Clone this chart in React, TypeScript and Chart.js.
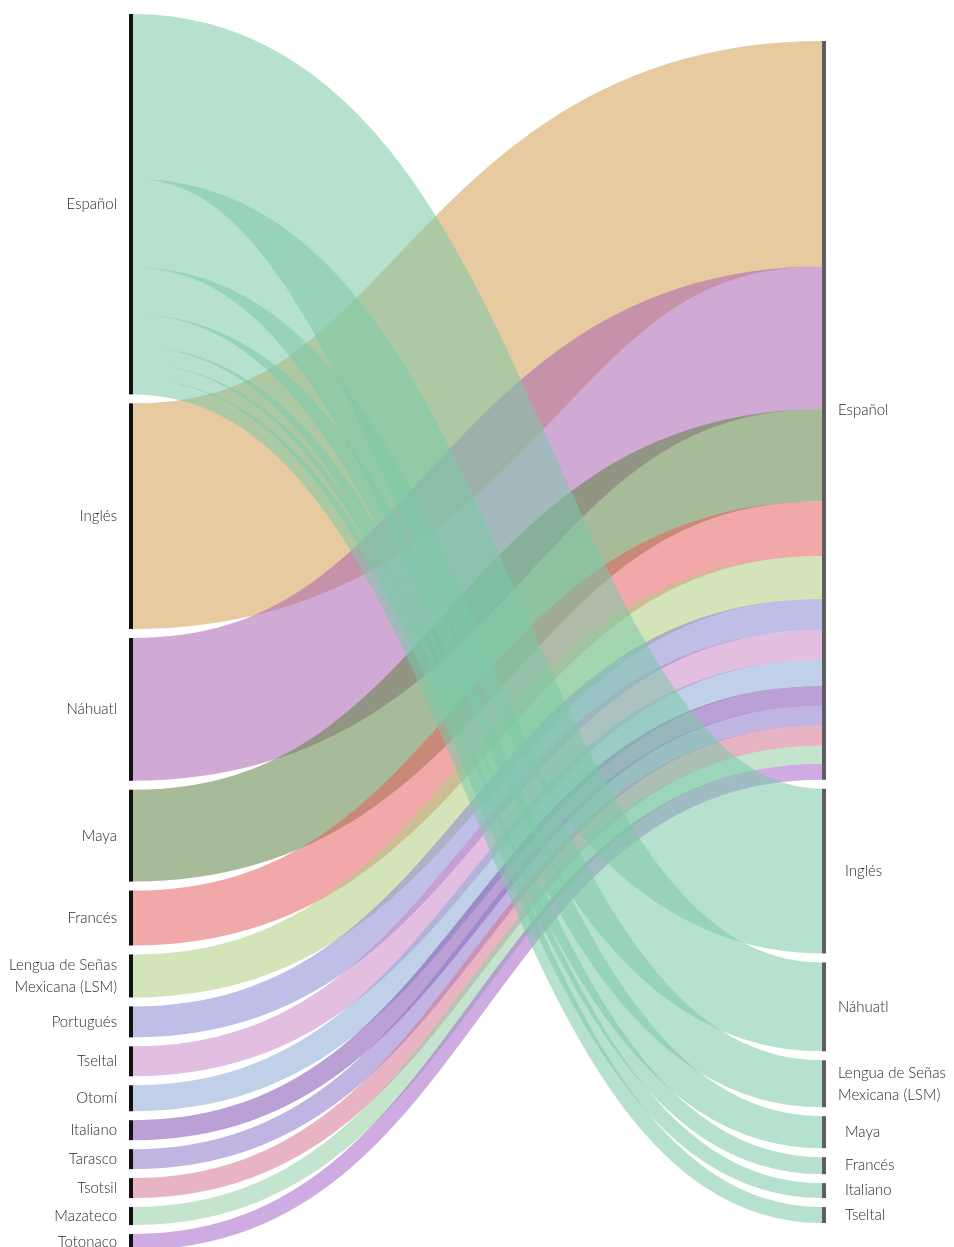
import React, { useEffect, useRef } from "react";
import { Chart, registerables } from "chart.js";

Chart.register(...registerables);

// ---------- DATA ----------
const sourceLanguages = [
  "Español",
  "Inglés",
  "Náhuatl",
  "Maya",
  "Francés",
  "Lengua de Señas\nMexicana (LSM)",
  "Portugués",
  "Tseltal",
  "Otomí",
  "Italiano",
  "Tarasco",
  "Tsotsil",
  "Mazateco",
  "Totonaco",
];

const targetLanguages = [
  "Español",
  "Inglés",
  "Náhuatl",
  "Lengua de Señas\nMexicana (LSM)",
  "Maya",
  "Francés",
  "Italiano",
  "Tseltal",
];

// flows from source languages 2..14 into target "Español"
const toSpanishValues = [226, 143, 92, 55, 43, 31, 30, 26, 20, 20, 20, 18, 16];
// flows from source "Español" into target languages 2..8
const fromSpanishValues = [165, 89, 47, 32, 17, 15, 16];

const sourceColors = [
  "#7cc9a8",
  "#d59f52",
  "#aa64b1",
  "#5f8344",
  "#e46161",
  "#b1ce80",
  "#8989d1",
  "#ca89c7",
  "#8caad5",
  "#8152b1",
  "#8c77ca",
  "#d57693",
  "#94cea6",
  "#a668ca",
];

// ---------- LAYOUT / STYLE ----------
const NODE_GAP = 9;
const LINK_ALPHA = 0.55;
const NODE_W = 4;
const LABEL_FONT = "300 15px Lato, 'Open Sans', sans-serif";
const LABEL_COLOR = "#2a2a2a";
const CANVAS_W = 954;
const CANVAS_H = 1250;

type Link = { s: number; t: number; v: number };

// drawing order: flows into Español first, flows out of Español on top
const links: Link[] = [
  ...toSpanishValues.map((v, i) => ({ s: i + 1, t: 0, v })),
  ...fromSpanishValues.map((v, i) => ({ s: 0, t: i + 1, v })),
];

function nodeValues(count: number, key: "s" | "t") {
  const vals = new Array(count).fill(0);
  links.forEach((l) => (vals[l[key]] += l.v));
  return vals;
}

const leftValues = nodeValues(sourceLanguages.length, "s");
const rightValues = nodeValues(targetLanguages.length, "t");
const sum = (a: number[]) => a.reduce((p, c) => p + c, 0);
const leftSpan = sum(leftValues) + NODE_GAP * (leftValues.length - 1);
const rightSpan = sum(rightValues) + NODE_GAP * (rightValues.length - 1);

function stack(values: number[], offset: number) {
  const out: { y0: number; y1: number }[] = [];
  let y = offset;
  values.forEach((v) => {
    out.push({ y0: y, y1: y + v });
    y += v + NODE_GAP;
  });
  return out;
}

function hexToRgba(hex: string, a: number) {
  const n = parseInt(hex.slice(1), 16);
  return `rgba(${(n >> 16) & 255},${(n >> 8) & 255},${n & 255},${a})`;
}

const sankeyPlugin = {
  id: "sankeyFlows",
  afterDatasetsDraw(chart: any) {
    const { ctx, scales } = chart;
    const xs = scales.x;
    const ys = scales.y;
    const leftNodes = stack(leftValues, 0);
    const rightNodes = stack(rightValues, (leftSpan - rightSpan) / 2);

    const outCursor = leftNodes.map((n) => n.y0);
    const inCursor = rightNodes.map((n) => n.y0);
    const pos = new Map<Link, { sy: number; ty: number }>();
    [...links]
      .sort((a, b) => a.s - b.s || a.t - b.t)
      .forEach((l) => {
        const sy = outCursor[l.s] + l.v / 2;
        outCursor[l.s] += l.v;
        pos.set(l, { sy, ty: 0 });
      });
    [...links]
      .sort((a, b) => a.t - b.t || a.s - b.s)
      .forEach((l) => {
        const p = pos.get(l)!;
        p.ty = inCursor[l.t] + l.v / 2;
        inCursor[l.t] += l.v;
      });

    const xL = xs.getPixelForValue(0);
    const xR = xs.getPixelForValue(1);
    const x0 = xL + NODE_W;
    const x1 = xR - NODE_W;
    const xm = (x0 + x1) / 2;

    ctx.save();
    ctx.lineCap = "butt";
    links.forEach((l) => {
      const p = pos.get(l)!;
      const y0 = ys.getPixelForValue(p.sy);
      const y1 = ys.getPixelForValue(p.ty);
      const w = Math.abs(ys.getPixelForValue(l.v) - ys.getPixelForValue(0));
      ctx.beginPath();
      ctx.moveTo(x0, y0);
      ctx.bezierCurveTo(xm, y0, xm, y1, x1, y1);
      ctx.lineWidth = w;
      ctx.strokeStyle = hexToRgba(sourceColors[l.s], LINK_ALPHA);
      ctx.stroke();
    });

    leftNodes.forEach((n) => {
      const a = ys.getPixelForValue(n.y0);
      const b = ys.getPixelForValue(n.y1);
      ctx.fillStyle = "#111111";
      ctx.fillRect(xL, a, NODE_W, b - a);
    });
    rightNodes.forEach((n) => {
      const a = ys.getPixelForValue(n.y0);
      const b = ys.getPixelForValue(n.y1);
      ctx.fillStyle = "#5e5e5e";
      ctx.fillRect(xR - NODE_W, a, NODE_W, b - a);
    });

    ctx.font = LABEL_FONT;
    ctx.fillStyle = LABEL_COLOR;
    ctx.textBaseline = "middle";
    const lineH = 22;
    ctx.textAlign = "right";
    leftNodes.forEach((n, i) => {
      const cy = ys.getPixelForValue((n.y0 + n.y1) / 2);
      const lines = sourceLanguages[i].split("\n");
      lines.forEach((ln, k) => {
        ctx.fillText(ln, xL - 12, cy + (k - (lines.length - 1) / 2) * lineH);
      });
    });
    ctx.textAlign = "left";
    rightNodes.forEach((n, i) => {
      const cy = ys.getPixelForValue((n.y0 + n.y1) / 2);
      const lines = targetLanguages[i].split("\n");
      const lx = i === 0 || i === 2 || i === 3 ? xR + 12 : xR + 19;
      lines.forEach((ln, k) => {
        ctx.fillText(ln, lx, cy + (k - (lines.length - 1) / 2) * lineH);
      });
    });
    ctx.restore();
  },
};

export default function App() {
  const ref = useRef<HTMLCanvasElement>(null);
  useEffect(() => {
    if (!ref.current) return;
    const chart = new Chart(ref.current, {
      type: "scatter",
      data: { datasets: [] },
      options: {
        animation: false,
        responsive: false,
        maintainAspectRatio: false,
        layout: { padding: { left: 129, right: CANVAS_W - 826, top: 14, bottom: 0 } },
        scales: {
          x: { type: "linear", min: 0, max: 1, display: false },
          y: { type: "linear", min: 0, max: leftSpan, reverse: true, display: false },
        },
        plugins: { legend: { display: false }, tooltip: { enabled: false } },
      },
      plugins: [sankeyPlugin],
    });
    return () => chart.destroy();
  }, []);
  return (
    <div
      style={{
        position: "fixed",
        left: 0,
        top: 0,
        width: CANVAS_W,
        height: 1247,
        overflow: "hidden",
        background: "#ffffff",
      }}
    >
      <canvas
        ref={ref}
        width={CANVAS_W}
        height={CANVAS_H}
        style={{ width: CANVAS_W, height: CANVAS_H, display: "block" }}
      />
    </div>
  );
}
